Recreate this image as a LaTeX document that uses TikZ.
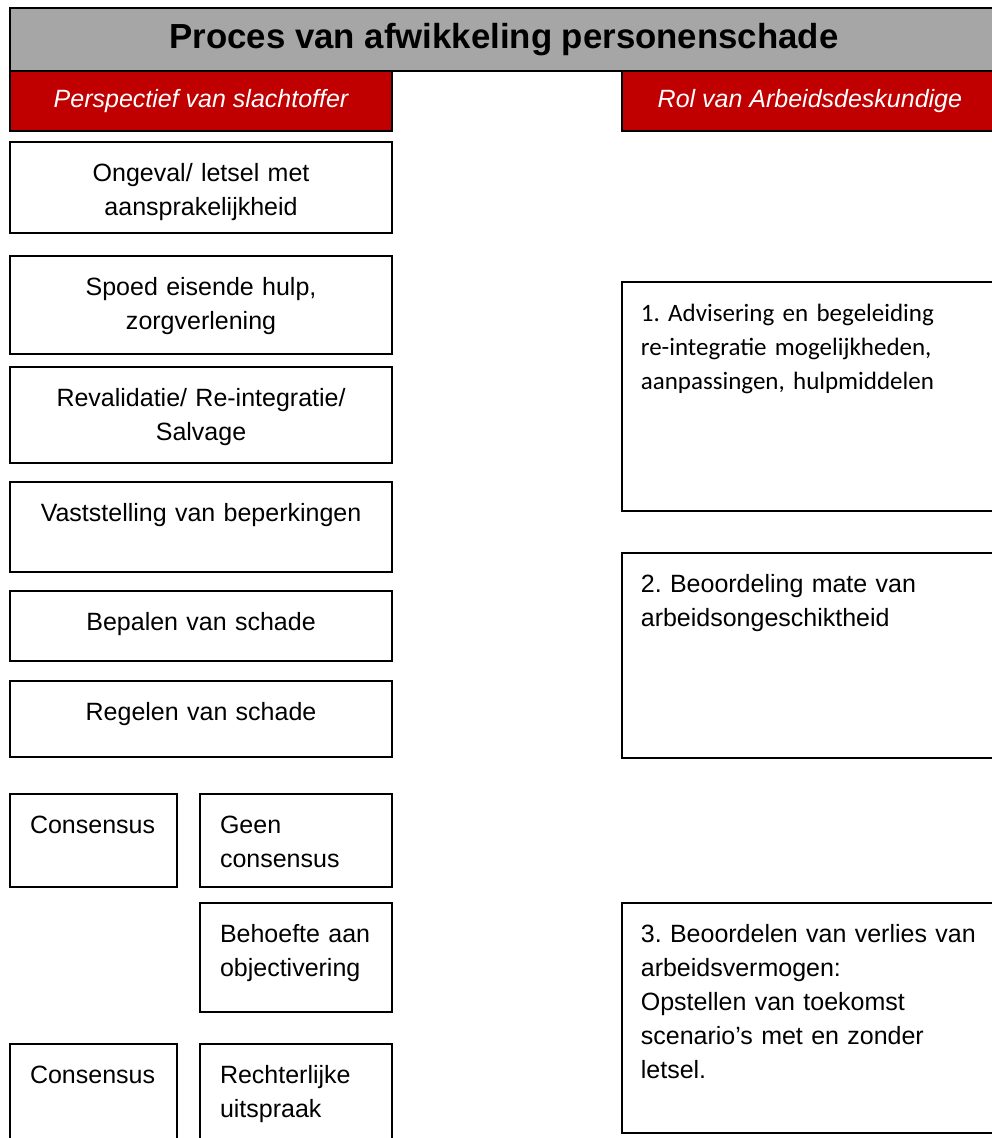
\documentclass[tikz,border=0pt]{standalone}
\usepackage{fontspec}
\setmainfont{Liberation Sans}
\newfontfamily\calibrifont{Carlito}
\usepackage{tikz}
\usetikzlibrary{positioning}
\definecolor{headgray}{HTML}{A6A6A6}
\definecolor{headred}{HTML}{C00000}
\frenchspacing

\begin{document}
\begin{tikzpicture}[
    x=0.48pt, y=-0.48pt,
    base/.style={draw, rectangle, line width=1pt, inner sep=0pt, outer sep=0pt, font=\fontsize{12}{16.3}\selectfont},
    header/.style={base, fill=headred, text=white, minimum height=28.8pt, font=\fontsize{12}{14}\selectfont\itshape},
    stepbox/.style={base, align=center, text width=175.4pt, inner xsep=4pt, text height=19pt},
    casebox/.style={base, align=left, inner xsep=9.6pt, text height=19pt},
    rolebox/.style={base, align=left, text width=162.3pt, inner xsep=9.1pt, text height=19pt}
    ]
    \useasboundingbox (0,0) rectangle (991,1138);

    % --- Kop ---
    \node (title) [base, fill=headgray, anchor=north west, minimum width=474.2pt, minimum height=30.2pt,
        font=\fontsize{16.7}{20}\selectfont\bfseries] at (10,8) {Proces van afwikkeling personenschade};

    \node (victim) [header, minimum width=183.4pt, anchor=north west] at (title.south west) {Perspectief van slachtoffer};

    \node (role) [header, minimum width=180.5pt, anchor=north east] at (title.south east) {Rol van Arbeidsdeskundige};

    % --- Linker kolom: slachtoffer ---
    \node (incident) [stepbox, text depth=24.7pt, below=5.3pt of victim] {Ongeval/ letsel met\\aansprakelijkheid};

    \node (urgentcare) [stepbox, text depth=28pt, below=11pt of incident] {Spoed eisende hulp,\\zorgverlening};

    \node (rehab) [stepbox, text depth=27.1pt, below=6.2pt of urgentcare] {Revalidatie/ Re-integratie/\\Salvage};

    \node (limits) [stepbox, text depth=24.2pt, below=9.1pt of rehab] {Vaststelling van beperkingen};

    \node (damage) [stepbox, text depth=14.6pt, below=9.1pt of limits] {Bepalen van schade};

    \node (settle) [stepbox, text depth=17.5pt, below=9.6pt of damage] {Regelen van schade};

    \node (consensusA) [casebox, text width=61pt, text depth=25.6pt, below=17.8pt of settle.south west, anchor=north west] {Consensus};

    \node (noconsensus) [casebox, text width=73pt, text depth=25.6pt, below=17.8pt of settle.south east, anchor=north east] {Geen\\consensus};

    \node (objective) [casebox, text width=73pt, text depth=33.3pt, below=7.7pt of noconsensus] {Behoefte aan\\objectivering};

    \node (verdict) [casebox, text width=73pt, text depth=36pt, below=15.4pt of objective] {Rechterlijke\\uitspraak};

    \node (consensusB) [casebox, text width=61pt, text depth=36pt, below=75.4pt of consensusA.south west, anchor=north west] {Consensus};

    % --- Rechter kolom: arbeidsdeskundige ---
    \node (advice) [rolebox, text depth=90.9pt, below=72.5pt of role.south east, anchor=north east,
        font=\calibrifont\fontsize{12}{16.3}\selectfont] {1. Advisering en begeleiding\\re-integratie mogelijkheden,\\aanpassingen, hulpmiddelen};

    \node (assessment) [rolebox, text depth=79.4pt, below=20.2pt of advice] {2. Beoordeling mate van\\arbeidsongeschiktheid};

    \node (capacity) [rolebox, text depth=91.4pt, anchor=north east] at (assessment.east |- objective.north) {3. Beoordelen van verlies van\\arbeidsvermogen:\\Opstellen van toekomst\\scenario’s met en zonder\\letsel.};

\end{tikzpicture}
\end{document}
